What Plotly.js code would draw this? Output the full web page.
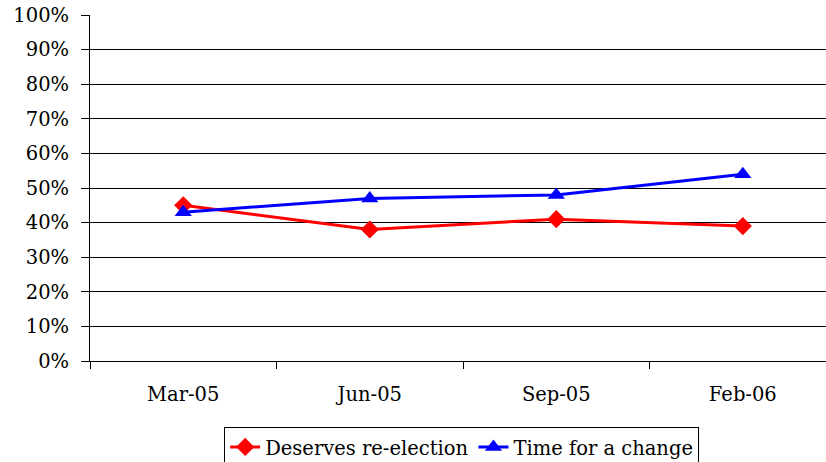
<!DOCTYPE html>
<html>
<head>
<meta charset="utf-8">
<script src="https://cdn.plot.ly/plotly-3.0.1.min.js"></script>
<style>
html,body{margin:0;padding:0;background:#fff;overflow:hidden;width:826px;height:462px}
</style>
</head>
<body>
<div id="chart" style="width:826px;height:480px"></div>
<script>
const categories = ["Mar-05", "Jun-05", "Sep-05", "Feb-06"];
const deservesReelection = [0.45, 0.38, 0.41, 0.39];
const timeForChange = [0.43, 0.47, 0.48, 0.54];
const yTickVals = [0, 0.1, 0.2, 0.3, 0.4, 0.5, 0.6, 0.7, 0.8, 0.9, 1.0];

const font = {family: "DejaVu Serif", size: 19.5, color: "#000"};

const traces = [
  {
    x: categories, y: deservesReelection, name: "Deserves re-election",
    type: "scatter", mode: "lines+markers",
    line: {color: "#ff0000", width: 3},
    marker: {symbol: "diamond", size: 14, color: "#ff0000"}
  },
  {
    x: categories, y: timeForChange, name: "Time for a change",
    type: "scatter", mode: "lines+markers",
    line: {color: "#0000ff", width: 3},
    marker: {symbol: "triangle-up", size: 15, color: "#0000ff"}
  }
];

const layout = {
  width: 826, height: 480,
  margin: {l: 90, r: 0, t: 15, b: 119},
  paper_bgcolor: "#fff", plot_bgcolor: "#fff",
  font: font,
  showlegend: true,
  legend: {
    orientation: "h", x: 0.505, xanchor: "center", y: -0.19, yanchor: "top",
    bordercolor: "#000", borderwidth: 1, font: font,
    itemwidth: 30, tracegroupgap: 0
  },
  xaxis: {
    type: "category", range: [-0.5, 3.446],
    tickson: "boundaries", ticks: "outside", ticklen: 7, tickcolor: "#000",
    showline: true, linecolor: "#000", linewidth: 1,
    showgrid: false, zeroline: false,
    ticklabelstandoff: 16,
    tickfont: font
  },
  yaxis: {
    range: [0, 1], tickvals: yTickVals, tickformat: ".0%",
    ticks: "outside", ticklen: 8, tickcolor: "#000",
    showline: true, linecolor: "#000", linewidth: 1,
    showgrid: true, gridcolor: "#000", gridwidth: 1,
    zeroline: false, ticklabelstandoff: 8,
    tickfont: font
  }
};

Plotly.newPlot("chart", traces, layout, {displayModeBar: false, staticPlot: true});
</script>
</body>
</html>
